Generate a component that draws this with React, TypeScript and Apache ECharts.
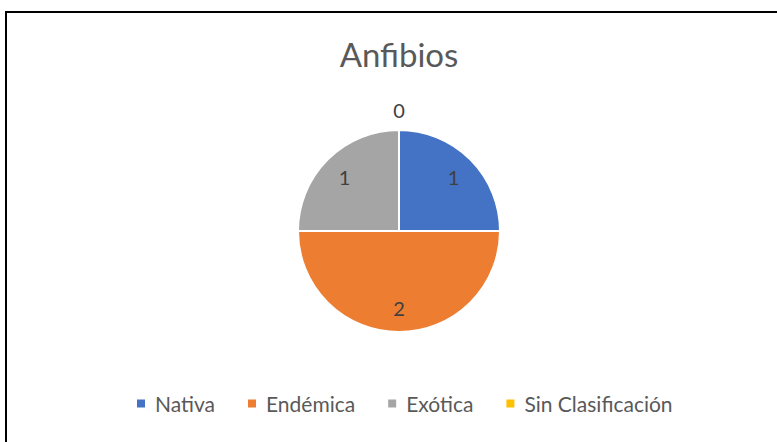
import React, { useEffect, useRef } from "react";
import * as echarts from "echarts";

const categories = ["Nativa", "Endémica", "Exótica", "Sin Clasificación"];
const values = [1, 2, 1, 0];
const colors = ["#4472C4", "#ED7D31", "#A5A5A5", "#FFC000"];
const titleText = "Anfibios";

export default function App() {
  const ref = useRef<HTMLDivElement>(null);
  useEffect(() => {
    if (!ref.current) return;
    const chart = echarts.init(ref.current, undefined, { renderer: "svg" });
    const font = "Lato, 'Open Sans', sans-serif";
    const data = categories.map((name, i) => ({
      name,
      value: values[i],
      itemStyle: { color: colors[i] },
    }));
    chart.setOption({
      animation: false,
      backgroundColor: "#ffffff",
      title: {
        text: titleText,
        left: 394,
        top: 32,
        textAlign: "center",
        textStyle: { fontFamily: font, fontSize: 33, fontWeight: "normal", color: "#595959" },
      },
      legend: {
        data: categories,
        left: 130,
        top: 388,
        icon: "rect",
        itemWidth: 10,
        itemHeight: 10,
        itemGap: 31,
        textStyle: { fontFamily: font, fontSize: 21, color: "#595959", padding: [0, 0, 0, 4] },
      },
      graphic: [
        {
          type: "rect",
          shape: { x: 6, y: 12, width: 900, height: 600 },
          style: { fill: "none", stroke: "#000", lineWidth: 2 },
          silent: true,
        },
      ],
      series: [
        {
          type: "pie",
          center: [399, 231],
          radius: [0, 101],
          startAngle: 90,
          clockwise: true,
          data: data.map((d) => ({
            ...d,
            label:
              d.value === 0
                ? {
                    show: true,
                    position: "outside",
                    distanceToLabelLine: 0,
                    formatter: "{c}",
                    fontFamily: font,
                    fontSize: 20,
                    color: "#404040",
                  }
                : { show: false },
            labelLine: { show: false, length: 20, length2: 0 },
          })),
          labelLayout: (p: any) => (p.dataIndex === 3 ? { align: "center" } : {}),
          itemStyle: { borderColor: "#ffffff", borderWidth: 2 },
          emphasis: { disabled: true },
        },
        {
          type: "pie",
          center: [399, 231],
          radius: [48, 100],
          startAngle: 90,
          clockwise: true,
          silent: true,
          data: data.map((d) => ({
            name: d.name + " ",
            value: d.value,
            itemStyle: { color: "rgba(0,0,0,0)" },
            label: { show: d.value !== 0 },
          })),
          label: {
            position: "inside",
            formatter: "{c}",
            fontFamily: font,
            fontSize: 20,
            color: "#404040",
          },
          labelLine: { show: false },
          emphasis: { disabled: true },
        },
      ],
    });
    return () => chart.dispose();
  }, []);
  return <div ref={ref} style={{ position: "fixed", left: 0, top: 0, width: 777, height: 442 }} />;
}
